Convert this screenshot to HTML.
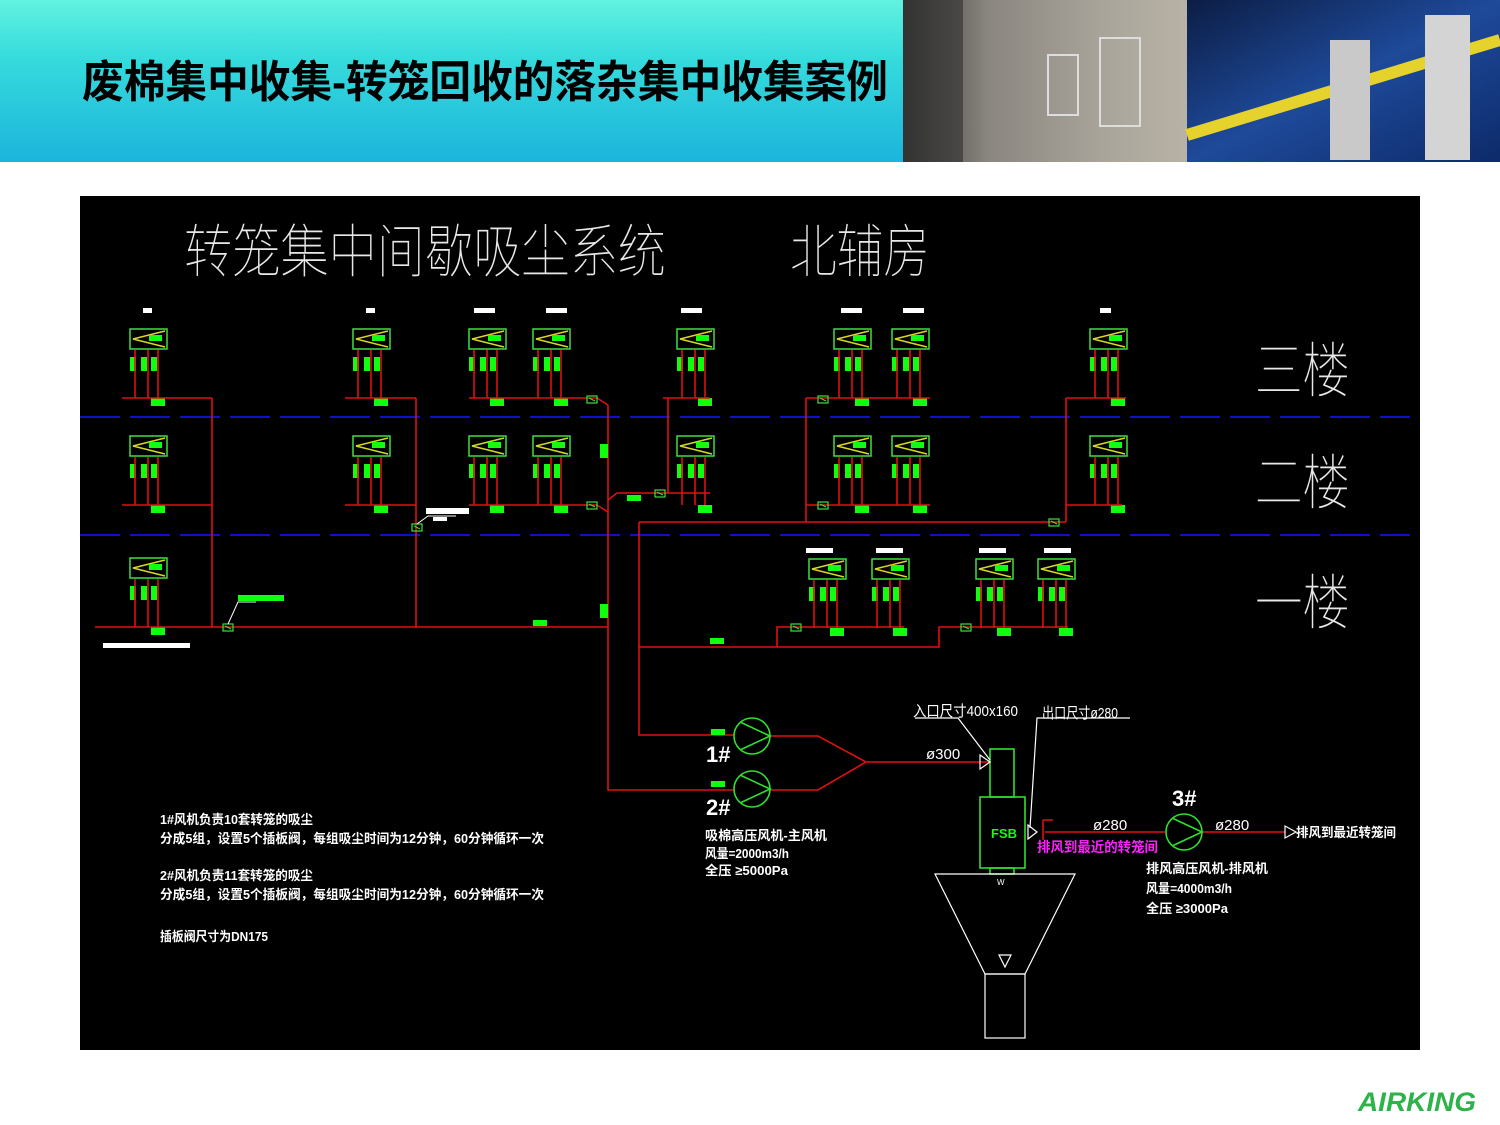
<!DOCTYPE html>
<html><head><meta charset="utf-8">
<style>
html,body{margin:0;padding:0;width:1500px;height:1125px;background:#fff;overflow:hidden}
svg{display:block}
text{font-family:"Liberation Sans","Noto Sans CJK SC",sans-serif}
</style></head><body>
<svg width="1500" height="1125" viewBox="0 0 1500 1125" xmlns="http://www.w3.org/2000/svg">
<defs>
<linearGradient id="hg" x1="0" y1="0" x2="0" y2="1">
<stop offset="0" stop-color="#62f2e0"/><stop offset="0.35" stop-color="#36dcdc"/><stop offset="1" stop-color="#1cb4dc"/>
</linearGradient>
<linearGradient id="p1" x1="0" y1="0" x2="1" y2="0">
<stop offset="0" stop-color="#3a3a3a"/><stop offset="0.3" stop-color="#8a8680"/><stop offset="0.7" stop-color="#a9a49a"/><stop offset="1" stop-color="#b8b2a6"/>
</linearGradient>
<linearGradient id="p2" x1="0" y1="0" x2="1" y2="1">
<stop offset="0" stop-color="#0c1d44"/><stop offset="0.5" stop-color="#1e4a9a"/><stop offset="1" stop-color="#0d2a6a"/>
</linearGradient>
<g id="u">
<rect x="0" y="0" width="37" height="20" fill="none" stroke="#3ee03e" stroke-width="1.5"/>
<polyline points="35,2 3,10 35,18" fill="none" stroke="#d8d820" stroke-width="1.5"/>
<rect x="19" y="6" width="13" height="6" fill="#10ff10"/>
<rect x="0" y="28" width="6" height="14" fill="#10ff10"/>
<rect x="11" y="28" width="6" height="14" fill="#10ff10"/>
<rect x="21" y="28" width="6" height="14" fill="#10ff10"/>
<g stroke="#e01010" stroke-width="1.6"><line x1="5" y1="21" x2="5" y2="69"/><line x1="18" y1="21" x2="18" y2="69"/><line x1="28" y1="21" x2="28" y2="69"/></g>
<rect x="21" y="69" width="14" height="8" fill="#10ff10"/>
</g>
<g id="v"><rect x="-5" y="-3" width="10" height="7" fill="none" stroke="#3ee03e" stroke-width="1.2"/><line x1="-3" y1="-1" x2="3" y2="2" stroke="#3ee03e"/></g>
</defs>
<rect x="0" y="0" width="903" height="162" fill="url(#hg)"/>
<rect x="903" y="0" width="284" height="162" fill="url(#p1)"/>
<rect x="903" y="0" width="60" height="162" fill="#2e2e2e" opacity="0.6"/>
<rect x="1048" y="55" width="30" height="60" fill="none" stroke="#ddd" stroke-width="2"/>
<rect x="1100" y="38" width="40" height="88" fill="none" stroke="#ddd" stroke-width="2"/>
<rect x="1187" y="0" width="313" height="162" fill="url(#p2)"/>
<path d="M1187,135 L1500,40" stroke="#e6d22c" stroke-width="12"/>
<rect x="1330" y="40" width="40" height="120" fill="#c9c9c9"/>
<rect x="1425" y="15" width="45" height="145" fill="#d4d4d4"/>
<text x="82" y="97" font-size="44" font-weight="bold" fill="#000" textLength="806" lengthAdjust="spacingAndGlyphs">废棉集中收集-转笼回收的落杂集中收集案例</text>

<rect x="80" y="196" width="1340" height="854" fill="#000"/>
<text x="184" y="272" font-size="58" fill="#e8e8e8" font-weight="100" textLength="482" lengthAdjust="spacingAndGlyphs" style="font-family:'Noto Sans CJK SC',sans-serif;font-weight:100">转笼集中间歇吸尘系统</text>
<text x="790" y="272" font-size="58" fill="#e8e8e8" textLength="140" lengthAdjust="spacingAndGlyphs" style="font-family:'Noto Sans CJK SC',sans-serif;font-weight:100">北辅房</text>
<g font-size="60" fill="#e8e8e8" style="font-family:'Noto Sans CJK SC',sans-serif;font-weight:100">
<text x="1255" y="392" textLength="95" lengthAdjust="spacingAndGlyphs">三楼</text>
<text x="1255" y="504" textLength="95" lengthAdjust="spacingAndGlyphs">二楼</text>
<text x="1255" y="624" textLength="95" lengthAdjust="spacingAndGlyphs">一楼</text>
</g>
<g stroke="#1010c8" stroke-width="2" stroke-dasharray="40,10">
<line x1="80" y1="417" x2="1410" y2="417"/><line x1="80" y1="535" x2="1410" y2="535"/>
</g>
<g fill="#fff">
<rect x="143" y="308" width="9" height="5"/><rect x="366" y="308" width="9" height="5"/>
<rect x="474" y="308" width="21" height="5"/><rect x="546" y="308" width="21" height="5"/>
<rect x="681" y="308" width="21" height="5"/><rect x="841" y="308" width="21" height="5"/>
<rect x="903" y="308" width="21" height="5"/><rect x="1100" y="308" width="11" height="5"/>
<rect x="806" y="548" width="27" height="5"/><rect x="876" y="548" width="27" height="5"/>
<rect x="979" y="548" width="27" height="5"/><rect x="1044" y="548" width="27" height="5"/>
<rect x="103" y="643" width="87" height="5"/><rect x="426" y="508" width="43" height="6"/><rect x="433" y="517" width="14" height="4"/>
</g>
<!-- units -->
<use href="#u" x="130" y="329"/><use href="#u" x="353" y="329"/><use href="#u" x="469" y="329"/><use href="#u" x="533" y="329"/>
<use href="#u" x="677" y="329"/><use href="#u" x="834" y="329"/><use href="#u" x="892" y="329"/><use href="#u" x="1090" y="329"/>
<use href="#u" x="130" y="436"/><use href="#u" x="353" y="436"/><use href="#u" x="469" y="436"/><use href="#u" x="533" y="436"/>
<use href="#u" x="677" y="436"/><use href="#u" x="834" y="436"/><use href="#u" x="892" y="436"/><use href="#u" x="1090" y="436"/>
<use href="#u" x="130" y="558"/>
<use href="#u" x="809" y="559"/><use href="#u" x="872" y="559"/><use href="#u" x="976" y="559"/><use href="#u" x="1038" y="559"/>
<!-- red ducts -->
<g stroke="#e01010" stroke-width="1.6" fill="none">
<path d="M122,398H212M122,505H212M212,398V627M95,627H608"/>
<path d="M345,398H416M345,505H416M416,398V627"/>
<path d="M469,398H597L608,405M469,505H597L608,512M608,405V790H734"/>
<path d="M663,398H710M668,398V493H710M668,493H617L608,500"/>
<path d="M806,398H930M806,505H930M806,398V522M639,522H1066M1066,398V522M1066,398H1126M1066,505H1122"/>
<path d="M639,522V735H734"/>
<path d="M639,647H939V627H1068M777,647V627H904"/>
<path d="M770,736H818L866,762L818,790H770M866,762H990"/>
<path d="M1045,832H1165M1202,832H1285M1043,820V840M1043,820H1053"/>
</g>
<g fill="#10ff10">
<rect x="600" y="444" width="8" height="14"/><rect x="600" y="604" width="8" height="14"/>
<rect x="533" y="620" width="14" height="6"/><rect x="710" y="638" width="14" height="6"/>
<rect x="627" y="495" width="14" height="6"/><rect x="238" y="595" width="46" height="6"/>
<rect x="711" y="729" width="14" height="6"/><rect x="711" y="781" width="14" height="6"/>
</g>
<use href="#v" x="228" y="627"/><use href="#v" x="417" y="527"/><use href="#v" x="592" y="399"/><use href="#v" x="592" y="505"/>
<use href="#v" x="660" y="493"/><use href="#v" x="823" y="399"/><use href="#v" x="823" y="505"/><use href="#v" x="1054" y="522"/>
<use href="#v" x="796" y="627"/><use href="#v" x="966" y="627"/>
<g stroke="#fff" stroke-width="1" fill="none">
<path d="M228,624L238,602H256M417,524L428,516H456"/>
</g>
<!-- fans -->
<g stroke="#2ee02e" stroke-width="1.6" fill="none">
<circle cx="752" cy="736" r="18"/><path d="M740,722L770,736L740,750"/>
<circle cx="752" cy="789" r="18"/><path d="M740,775L770,789L740,803"/>
<circle cx="1184" cy="832" r="18"/><path d="M1172,818L1202,832L1172,846"/>
<rect x="990" y="749" width="24" height="48"/><rect x="980" y="797" width="45" height="71"/>
<rect x="990" y="868" width="24" height="6"/>
</g>
<g stroke="#fff" stroke-width="1.2" fill="none">
<path d="M935,874H1075L1025,974H985Z"/><rect x="985" y="974" width="40" height="64"/>
<path d="M999,955H1011L1005,967Z"/>
<path d="M980,755L990,762L980,769Z"/><path d="M1028,825L1037,832L1028,839Z"/><path d="M1285,826L1296,832L1285,838Z"/>
<path d="M915,718H958L990,760M1130,718H1037L1030,828"/>
</g>
<g fill="#fff" font-size="15">
<text x="913" y="716" textLength="105" lengthAdjust="spacingAndGlyphs">入口尺寸400x160</text>
<text x="1042" y="718" textLength="76" lengthAdjust="spacingAndGlyphs">出口尺寸ø280</text>
<text x="926" y="759">ø300</text>
<text x="1093" y="830">ø280</text><text x="1215" y="830">ø280</text>
<text x="1296" y="837" font-size="13" font-weight="bold" textLength="100" lengthAdjust="spacingAndGlyphs">排风到最近转笼间</text>
<text x="706" y="762" font-size="22" font-weight="bold">1#</text>
<text x="706" y="815" font-size="22" font-weight="bold">2#</text>
<text x="1172" y="806" font-size="22" font-weight="bold">3#</text>
<g font-size="13" font-weight="bold">
<text x="705" y="840" textLength="122" lengthAdjust="spacingAndGlyphs">吸棉高压风机-主风机</text>
<text x="705" y="858" textLength="84" lengthAdjust="spacingAndGlyphs">风量=2000m3/h</text>
<text x="705" y="875" textLength="83" lengthAdjust="spacingAndGlyphs">全压  ≥5000Pa</text>
<text x="1146" y="873" textLength="122" lengthAdjust="spacingAndGlyphs">排风高压风机-排风机</text>
<text x="1146" y="893" textLength="86" lengthAdjust="spacingAndGlyphs">风量=4000m3/h</text>
<text x="1146" y="913" textLength="82" lengthAdjust="spacingAndGlyphs">全压  ≥3000Pa</text>
<text x="160" y="824" textLength="153" lengthAdjust="spacingAndGlyphs">1#风机负责10套转笼的吸尘</text>
<text x="160" y="843" textLength="384" lengthAdjust="spacingAndGlyphs">分成5组，设置5个插板阀，每组吸尘时间为12分钟，60分钟循环一次</text>
<text x="160" y="880" textLength="153" lengthAdjust="spacingAndGlyphs">2#风机负责11套转笼的吸尘</text>
<text x="160" y="899" textLength="384" lengthAdjust="spacingAndGlyphs">分成5组，设置5个插板阀，每组吸尘时间为12分钟，60分钟循环一次</text>
<text x="160" y="941" textLength="108" lengthAdjust="spacingAndGlyphs">插板阀尺寸为DN175</text>
</g>
</g>
<text x="991" y="838" font-size="13" font-weight="bold" fill="#10ff10">FSB</text>
<text x="997" y="885" font-size="8" fill="#fff">W</text>
<text x="1037" y="852" font-size="14" font-weight="bold" fill="#ff20ff" textLength="121" lengthAdjust="spacingAndGlyphs">排风到最近的转笼间</text>
<text x="1358" y="1111" font-size="27" font-weight="bold" font-style="italic" fill="#2db34a" textLength="118" lengthAdjust="spacingAndGlyphs">AIRKING</text>
</svg>
</body></html>
